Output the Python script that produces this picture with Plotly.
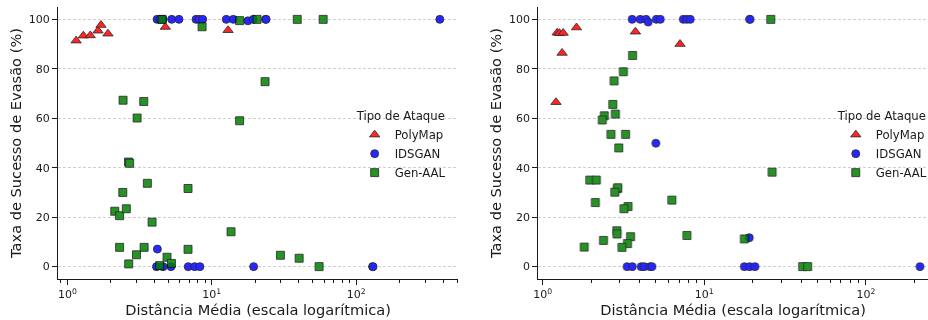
import plotly.graph_objects as go

# ---------------- data ----------------
series_names = ["PolyMap", "IDSGAN", "Gen-AAL"]

# Left panel
left_polymap_x = [1.15, 1.29, 1.44, 1.63, 1.71, 1.91, 4.77, 12.97]
left_polymap_y = [91.4, 93.4, 93.5, 95.4, 97.7, 94.2, 96.9, 95.6]

left_idsgan_x = [4.18, 4.38, 4.61, 5.28, 5.93, 7.78, 8.17, 8.66, 12.6, 14.1, 17.8, 19.4, 23.6, 23.8, 380,
                 4.2,
                 4.14, 4.6, 5.22, 6.87, 7.62, 8.28, 19.5, 130, 131]
left_idsgan_y = [100, 100, 100, 100, 100, 100, 100, 100, 100, 100, 99.4, 100, 100, 100, 100,
                 7.1,
                 0, 0, 0, 0, 0, 0, 0, 0, 0]

left_genaal_x = [4.53, 8.57, 15.6, 20.6, 39.1, 59.1, 23.4, 2.43, 3.38, 3.04, 15.6, 2.65, 2.70, 3.58,
                 6.85, 2.42, 2.13, 2.30, 2.56, 3.86, 13.6, 2.30, 3.40, 6.85, 3.01, 4.90, 2.66, 4.36,
                 5.26, 29.9, 40.3, 55.4]
left_genaal_y = [100, 97, 99.5, 100, 100, 100, 74.8, 67.3, 66.8, 60.1, 59.0, 42.3, 41.8, 33.7,
                 31.6, 30.0, 22.4, 20.6, 23.4, 18.0, 14.1, 7.8, 7.8, 7.0, 4.8, 3.8, 1.1, 0.4,
                 1.3, 4.6, 3.4, 0.0]

# Right panel
right_polymap_x = [1.23, 1.27, 1.34, 1.62, 1.32, 3.75, 7.08, 1.21]
right_polymap_y = [94.6, 94.4, 94.5, 96.7, 86.4, 95.0, 90.0, 66.5]

right_idsgan_x = [3.58, 4.02, 4.37, 4.50, 5.05, 5.35, 7.42, 7.80, 8.20, 19.1, 19.2, 5.02, 19.0,
                  17.7, 19.1, 20.6, 216, 3.33, 3.59, 4.07, 4.25, 4.63, 4.75]
right_idsgan_y = [100, 100, 100, 98.9, 100, 100, 100, 100, 100, 100, 100, 49.9, 11.7,
                  0, 0, 0, 0, 0, 0, 0, 0, 0, 0]

right_genaal_x = [25.8, 3.60, 3.16, 2.77, 2.72, 2.82, 2.41, 2.34, 2.65, 3.26, 2.96, 26.3, 1.96,
                  2.15, 2.90, 2.92, 2.80, 6.31, 2.12, 3.38, 3.19, 2.88, 2.89, 3.50, 7.82, 17.7,
                  2.38, 3.35, 3.10, 1.81, 40.6, 43.6]
right_genaal_y = [100, 85.4, 78.8, 75.1, 65.6, 61.7, 61.0, 59.3, 53.5, 53.5, 48.0, 38.2, 35.0,
                  35.0, 31.5, 31.9, 30.1, 26.9, 25.9, 24.3, 23.4, 14.5, 13.2, 12.1, 12.6, 11.2,
                  10.6, 9.3, 7.8, 7.9, 0.0, 0.0]

x_tickvals = [1, 10, 100]
x_ticktext = ["10<sup>0</sup>", "10<sup>1</sup>", "10<sup>2</sup>"]
y_tickvals = [0, 20, 40, 60, 80, 100]

legend_title = "Tipo de Ataque"
x_title = "Distância Média (escala logarítmica)"
y_title = "Taxa de Sucesso de Evasão (%)"

# ---------------- styling ----------------
FONT = "DejaVu Sans"
TXT = "#1a1a1a"
styles = {
    "PolyMap": dict(symbol="triangle-up", color="red", size=9),
    "IDSGAN": dict(symbol="circle", color="blue", size=8),
    "Gen-AAL": dict(symbol="square", color="green", size=8),
}

fig = go.Figure()

panels = [
    ("x", "y", "legend",
     [(left_polymap_x, left_polymap_y), (left_idsgan_x, left_idsgan_y), (left_genaal_x, left_genaal_y)]),
    ("x2", "y2", "legend2",
     [(right_polymap_x, right_polymap_y), (right_idsgan_x, right_idsgan_y), (right_genaal_x, right_genaal_y)]),
]

for xa, ya, lg, data in panels:
    for name, (xs, ys) in zip(series_names, data):
        st = styles[name]
        fig.add_trace(go.Scatter(
            x=xs, y=ys, mode="markers", name=name, xaxis=xa, yaxis=ya, legend=lg,
            opacity=0.85,
            marker=dict(symbol=st["symbol"], color=st["color"], size=st["size"],
                        line=dict(color="black", width=0.8)),
        ))

minor_vals = [m * 10 ** e for e in range(-1, 3) for m in range(2, 10)]

def xaxis_cfg(domain, rng, anchor):
    return dict(
        domain=domain, anchor=anchor, type="log", range=rng,
        tickvals=x_tickvals, ticktext=x_ticktext,
        ticks="outside", ticklen=5, tickwidth=1, tickcolor=TXT,
        minor=dict(tickvals=minor_vals, ticks="outside", ticklen=3, tickwidth=0.8, tickcolor=TXT),
        showline=True, linecolor=TXT, linewidth=1.2, mirror=False,
        showgrid=False, zeroline=False, automargin=False,
        tickfont=dict(family=FONT, size=11, color=TXT),
        title=dict(text=x_title, font=dict(family=FONT, size=14.6, color=TXT), standoff=4),
    )

def yaxis_cfg(anchor):
    return dict(
        anchor=anchor, range=[-5, 105], tickvals=y_tickvals,
        ticks="outside", ticklen=5, tickwidth=1, tickcolor=TXT,
        showline=True, linecolor=TXT, linewidth=1.2,
        showgrid=True, gridcolor="#cfcfcf", gridwidth=0.8, griddash="3px,2px",
        zeroline=False, automargin=False,
        tickfont=dict(family=FONT, size=11, color=TXT),
        title=dict(text=y_title, font=dict(family=FONT, size=14.6, color=TXT), standoff=3),
    )

legend_common = dict(
    bgcolor="rgba(0,0,0,0)", borderwidth=0,
    font=dict(family=FONT, size=11.7, color=TXT),
    title=dict(text=legend_title, font=dict(family=FONT, size=11.7, color=TXT)),
    xanchor="left", yanchor="top", tracegroupgap=0, itemsizing="trace",
)

fig.update_layout(
    width=928, height=320,
    margin=dict(l=58, r=0, t=7, b=41, autoexpand=False),
    paper_bgcolor="white", plot_bgcolor="white",
    font=dict(family=FONT, color=TXT),
    xaxis=xaxis_cfg([0.0, 0.46], [-0.065, 2.707], "y"),
    yaxis=yaxis_cfg("x"),
    xaxis2=xaxis_cfg([0.552, 1.0], [-0.027, 2.384], "y2"),
    yaxis2=yaxis_cfg("x2"),
    legend=dict(x=0.341, y=0.64, **legend_common),
    legend2=dict(x=0.894, y=0.64, **legend_common),
)

fig.write_html("out.html")
